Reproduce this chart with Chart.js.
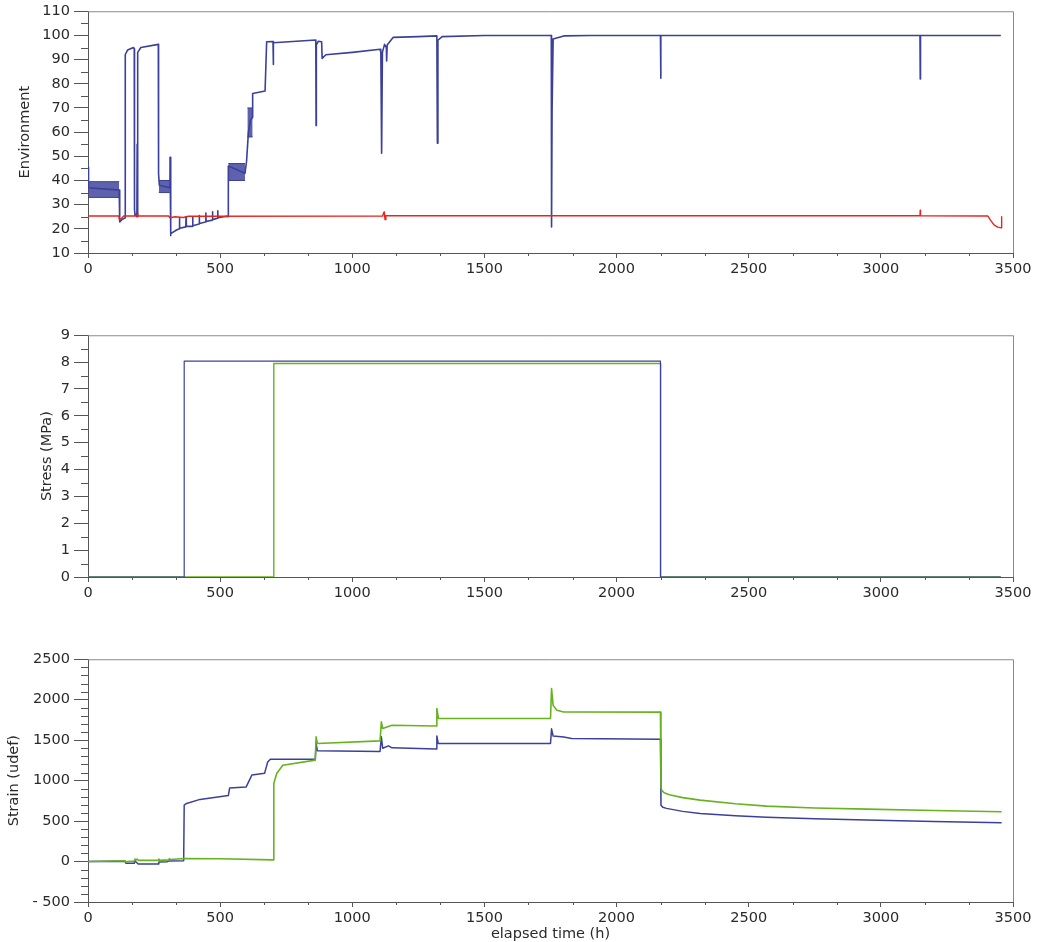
<!DOCTYPE html>
<html><head><meta charset="utf-8">
<script src="https://cdn.jsdelivr.net/npm/chart.js@4.4.1/dist/chart.umd.min.js"></script>
<style>
html,body{margin:0;padding:0;background:#fff;}
#wrap{position:relative;width:1044px;height:942px;overflow:hidden;}
canvas{position:absolute;left:0;}
</style></head><body>
<div id="wrap">
<canvas id="c1" width="1044" height="300" style="top:0px"></canvas>
<canvas id="c2" width="1044" height="300" style="top:324px"></canvas>
<canvas id="c3" width="1044" height="294" style="top:648px"></canvas>
</div>
<script>
// ---------- DATA (time in h, value) ----------
const xTickLabels = [0, 500, 1000, 1500, 2000, 2500, 3000, 3500];

// Panel 1: Environment - relative humidity (blue) and temperature (red)
const envHumidity = [[0,45.5],[2,37],[118,36],[119,25],[121,22.8],[130,24],[140,24.5],[141,92],[150,94],[172,95],[175,94.5],[176,28],[178,25.5],[182,26],[185,25],[186,55],[187,25],[188,25.5],[189,93],[200,95],[266,96.3],[267,42.8],[270,38],[310,37],[310.5,49.6],[312,17.2],[314,18],[335,19.5],[345,20],[346,24.5],[347,20.2],[370,20.8],[371,25],[372,21],[395,21],[396,25],[397,21.3],[420,22],[421,25.5],[422,22.2],[445,22.8],[446,26.5],[447,23],[470,23.6],[471,27],[472,23.8],[490,24.4],[491,27.5],[492,24.6],[525,25.2],[530,25],[531,46],[594,43],[600,48],[607,60],[615,65],[622,66],[623,76],[670,77],[676,97.4],[700,97.5],[701,88],[702,97],[862,98.1],[863,62.7],[864,96],[871,97.6],[884,97.4],[886,90.5],[900,92],[1000,93],[1105,94.3],[1108,93],[1111,51.3],[1114,93],[1122,96.3],[1129,95],[1130,89.4],[1132,96],[1155,99.2],[1250,99.5],[1320,99.8],[1322,55.4],[1324,98],[1340,99.5],[1500,100],[1753,100],[1754,20.8],[1756,69],[1760,98.5],[1800,99.8],[1900,100],[2166,100],[2167,82.3],[2168,100],[3148,100],[3149,82],[3150,100],[3454,100]];
// noisy humidity bands: [start, end, low, high]
const envHumidityNoise = [[1,118,33,39.5],[268,310,35,40],[531,594,40,47],[603,623,58,70]];
const envTemperature = [[0,25.3],[117,25.3],[118,24],[122,23.8],[128,24.5],[135,25.3],[185,25.3],[187,26],[189,25.3],[305,25.3],[310,24.6],[330,25],[360,24.7],[380,25.2],[1115,25.3],[1118,26.5],[1121,27],[1124,23.8],[1127,25.4],[3148,25.4],[3149,27.7],[3150,25.4],[3405,25.3],[3415,23.6],[3428,21.6],[3442,20.7],[3456,20.4],[3457,25.2]];

// Panel 2: Stress (MPa)
const stressA = [[0,0],[364,0],[364,8.04],[2166,8.04],[2166,0],[3454,0]];
const stressB = [[0,0],[703,0],[703,7.95],[2167,7.95],[2167,0],[3454,0]];

// Panel 3: Strain (udef)
const strainA = [[0,0],[140,5],[144,-22],[175,-20],[178,10],[182,-5],[190,-30],[265,-30],[268,-5],[300,-2],[305,8],[362,10],[364,697],[373,718],[424,768],[531,815],[536,910],[598,920],[610,1000],[620,1070],[668,1090],[680,1230],[690,1265],[860,1265],[863,1460],[868,1370],[1105,1360],[1110,1541],[1115,1400],[1137,1430],[1150,1405],[1318,1390],[1320,1553],[1325,1460],[1750,1459],[1754,1640],[1760,1550],[1800,1540],[1830,1521],[2166,1512],[2168,697],[2175,670],[2189,657],[2250,620],[2316,595],[2450,565],[2568,546],[2750,528],[2946,512],[3200,495],[3457,479]];
const strainB = [[0,0],[140,10],[145,-10],[150,0],[175,5],[178,30],[182,20],[186,30],[190,15],[265,15],[268,30],[272,15],[305,20],[308,35],[312,25],[364,38],[500,35],[700,20],[703,965],[714,1089],[737,1191],[860,1253],[863,1541],[868,1459],[1105,1491],[1110,1726],[1115,1644],[1150,1685],[1318,1675],[1320,1891],[1326,1768],[1750,1768],[1754,2138],[1760,1930],[1774,1870],[1800,1849],[2166,1846],[2168,923],[2171,880],[2180,850],[2200,825],[2250,790],[2316,759],[2450,715],[2568,685],[2750,662],[2946,648],[3200,630],[3457,615]];

// ---------- STYLE ----------
const BLUE = '#3b409a', RED = '#e8241e', GREEN = '#67b21f';
const FONT = {family: 'DejaVu Sans', size: 14.5, lineHeight: 1};
const TXT = '#2a2a2a';
const AX = '#555';

const pts = arr => arr.map(p => ({x: p[0], y: p[1]}));

const framePlugin = {
  id: 'frame',
  afterDraw(chart, args, opts) {
    const {ctx, chartArea: a, scales} = chart;
    ctx.save();
    ctx.lineWidth = 1;
    ctx.strokeStyle = '#8a8a8a';
    ctx.beginPath();
    ctx.moveTo(a.left, a.top + 0.5);
    ctx.lineTo(Math.round(a.right) + 0.5, a.top + 0.5);
    ctx.lineTo(Math.round(a.right) + 0.5, a.bottom);
    ctx.stroke();
    ctx.strokeStyle = AX;
    ctx.beginPath();
    const xs = scales.x, ys = scales.y;
    for (let i = 0; ; i++) {
      const v = xs.min + i * opts.xMinor;
      if (v > xs.max + 1e-6) break;
      if (i % opts.xEvery === 0) continue;
      const px = Math.round(xs.getPixelForValue(v)) + 0.5;
      ctx.moveTo(px, a.bottom); ctx.lineTo(px, a.bottom + 3);
    }
    for (let i = 0; ; i++) {
      const v = ys.min + i * opts.yMinor;
      if (v > ys.max + 1e-6) break;
      if (i % opts.yEvery === 0) continue;
      const py = Math.round(ys.getPixelForValue(v)) + 0.5;
      ctx.moveTo(a.left - 7, py); ctx.lineTo(a.left, py);
    }
    ctx.stroke();
    ctx.restore();
  }
};

function lineDs(data, color, width) {
  return {data: pts(data), borderColor: color, borderWidth: width || 1.4, pointRadius: 0,
          tension: 0, fill: false, borderJoinStyle: 'round'};
}

function makeCfg(datasets, y, xTitle, minor) {
  return {
    type: 'line',
    data: {datasets},
    options: {
      responsive: false, animation: false, events: [],
      layout: {padding: {left: 0, top: 10, right: 31, bottom: 0}},
      plugins: {legend: {display: false}, tooltip: {enabled: false}, frame: minor},
      scales: {
        x: {
          type: 'linear', min: 0, max: 3500,
          afterBuildTicks: s => { s.ticks = xTickLabels.map(v => ({value: v})); },
          ticks: {font: FONT, color: TXT, padding: 4, maxRotation: 0, autoSkip: false,
                  callback: v => String(v)},
          grid: {drawOnChartArea: false, drawTicks: true, tickLength: 5, tickColor: AX, color: AX},
          border: {display: true, color: AX, width: 1},
          title: {display: !!xTitle, text: xTitle || '', font: FONT, color: TXT, padding: {top: -3, bottom: 0}}
        },
        y: {
          type: 'linear', min: y.min, max: y.max,
          ticks: {stepSize: y.step, font: FONT, color: TXT, padding: 4, autoSkip: false,
                  callback: v => v < 0 ? '- ' + Math.abs(v) : String(v)},
          grid: {drawOnChartArea: false, drawTicks: true, tickLength: 14, tickColor: AX, color: AX},
          border: {display: true, color: AX, width: 1},
          title: {display: true, text: y.title, font: FONT, color: TXT, padding: {top: 4, bottom: y.titlePad}}
        }
      }
    },
    plugins: [framePlugin]
  };
}

function makeChart(id, cfg, target) {
  const ch = new Chart(document.getElementById(id), cfg);
  for (let i = 0; i < 3; i++) {
    const a = ch.chartArea;
    const p = cfg.options.layout.padding;
    const np = {
      left: p.left + (target.left - a.left),
      top: p.top + (target.top - a.top),
      right: p.right + (a.right - target.right),
      bottom: p.bottom + (a.bottom - target.bottom)
    };
    cfg.options.layout.padding = np;
    ch.options.layout.padding = np;
    ch.update('none');
  }
  return ch;
}

// Panel 1 datasets
const env = [lineDs(envTemperature, RED, 1.4), lineDs(envHumidity, BLUE, 1.6)];
envHumidityNoise.forEach(b => {
  env.push({data: pts([[b[0], b[2]], [b[1], b[2]]]), borderColor: BLUE, borderWidth: 1, pointRadius: 0, fill: false});
  env.push({data: pts([[b[0], b[3]], [b[1], b[3]]]), borderColor: BLUE, borderWidth: 1, pointRadius: 0,
            fill: '-1', backgroundColor: 'rgba(59,64,154,0.82)'});
});

makeChart('c1', makeCfg(env, {min: 10, max: 110, step: 10, title: 'Environment', titlePad: 5.5}, null,
  {xMinor: 500/3, xEvery: 3, yMinor: 5, yEvery: 2}), {left: 88, top: 10, right: 1013, bottom: 253});

makeChart('c2', makeCfg([lineDs(stressA, BLUE, 1.2), lineDs(stressB, GREEN, 1.4)],
  {min: 0, max: 9, step: 1, title: 'Stress (MPa)', titlePad: 2}, null,
  {xMinor: 500/3, xEvery: 3, yMinor: 0.5, yEvery: 2}), {left: 88, top: 10, right: 1013, bottom: 253});

makeChart('c3', makeCfg([lineDs(strainB, GREEN, 1.6), lineDs(strainA, BLUE, 1.5)],
  {min: -500, max: 2500, step: 500, title: 'Strain (udef)', titlePad: 7}, 'elapsed time (h)',
  {xMinor: 500/3, xEvery: 3, yMinor: 100, yEvery: 5}), {left: 88, top: 10, right: 1013, bottom: 254});
</script>
</body></html>
